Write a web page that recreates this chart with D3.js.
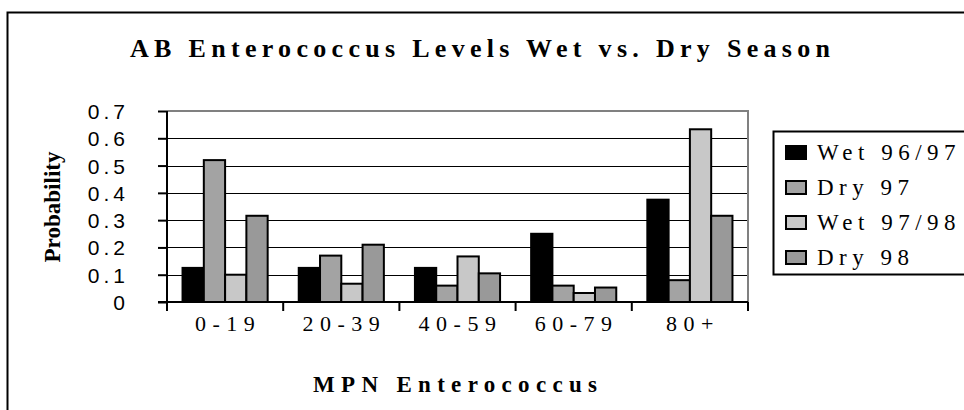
<!DOCTYPE html>
<html>
<head>
<meta charset="utf-8">
<script src="https://cdn.jsdelivr.net/npm/d3@7"></script>
<style>
  html, body { margin: 0; padding: 0; background: #fff; }
  svg { display: block; }
</style>
</head>
<body>
<svg id="chart" width="964" height="410"></svg>
<script>
// Enterococcus MPN bins and probability per season
const categories = ["0-19", "20-39", "40-59", "60-79", "80+"];
const seriesNames = ["Wet 96/97", "Dry 97", "Wet 97/98", "Dry 98"];
const wet9697 = [0.125, 0.125, 0.125, 0.25, 0.375];
const dry97 = [0.52, 0.17, 0.06, 0.06, 0.08];
const wet9798 = [0.1, 0.067, 0.167, 0.033, 0.633];
const dry98 = [0.316, 0.21, 0.105, 0.053, 0.316];
const yTicks = [0, 0.1, 0.2, 0.3, 0.4, 0.5, 0.6, 0.7];
const seriesValues = [wet9697, dry97, wet9798, dry98];
const colors = ["#000000", "#a3a3a3", "#c8c8c8", "#999999"];

const serif = "'Liberation Serif', 'Times New Roman', serif";
const sans = "'Liberation Sans', Arial, sans-serif";

const svg = d3.select("#chart");

// outer chart frame
svg.append("rect")
  .attr("x", 7.5).attr("y", 12.5)
  .attr("width", 1000).attr("height", 500)
  .attr("fill", "none").attr("stroke", "#000").attr("stroke-width", 2);

const plot = { left: 167, right: 748, top: 111, bottom: 302 };

const x0 = d3.scaleBand().domain(categories).range([plot.left, plot.right]).padding(0);
const x1 = d3.scaleBand().domain(seriesNames).range([0, x0.bandwidth()]).paddingInner(0).paddingOuter(0.73);
const y = d3.scaleLinear().domain([0, 0.7]).range([plot.bottom, plot.top]);

// gridlines
svg.append("g").selectAll("line")
  .data(yTicks.filter(t => t > 0 && t < 0.7))
  .join("line")
  .attr("x1", plot.left).attr("x2", plot.right)
  .attr("y1", d => Math.round(y(d)) + 0.5).attr("y2", d => Math.round(y(d)) + 0.5)
  .attr("stroke", "#000").attr("stroke-width", 1);

// top and right plot border (grey)
svg.append("path")
  .attr("d", `M${plot.left},${y(0.7)}H${plot.right}V${plot.bottom}`)
  .attr("fill", "none").attr("stroke", "#808080").attr("stroke-width", 2);

// bars
const rows = categories.map((c, i) => ({ cat: c, vals: seriesNames.map((s, j) => ({ s, j, v: seriesValues[j][i] })) }));
svg.append("g").selectAll("g")
  .data(rows)
  .join("g")
  .attr("transform", d => `translate(${x0(d.cat)},0)`)
  .selectAll("rect")
  .data(d => d.vals)
  .join("rect")
  .attr("x", d => x1(d.s))
  .attr("y", d => y(d.v))
  .attr("width", x1.bandwidth())
  .attr("height", d => y(0) - y(d.v))
  .attr("fill", d => colors[d.j])
  .attr("stroke", "#000").attr("stroke-width", 2);

// y axis
const yAxis = svg.append("g")
  .attr("transform", `translate(${plot.left},0)`)
  .call(d3.axisLeft(y).tickValues(yTicks).tickSize(9).tickPadding(29).tickFormat(d => d === 0 ? "0" : d3.format(".1f")(d)));
yAxis.attr("font-family", null).attr("font-size", null);
yAxis.select(".domain").attr("stroke", "#000").attr("stroke-width", 2).attr("d", `M0,${y(0.7)}V${plot.bottom}`);
yAxis.selectAll(".tick line").attr("stroke", "#000").attr("stroke-width", 2);
yAxis.selectAll(".tick text")
  .style("font-family", sans).style("font-size", "21px").attr("fill", "#000")
  .attr("letter-spacing", 4).attr("dy", "0.36em");

// x axis
const xAxis = svg.append("g")
  .attr("transform", `translate(0,${plot.bottom})`)
  .call(d3.axisBottom(x0).tickSize(0).tickPadding(13));
xAxis.attr("font-family", null).attr("font-size", null);
xAxis.select(".domain").attr("stroke", "#000").attr("stroke-width", 2).attr("d", `M${plot.left - 9},0H${plot.right}`);
xAxis.selectAll(".tick text")
  .style("font-family", serif).style("font-size", "22px").attr("fill", "#000")
  .attr("letter-spacing", 6.5).attr("dx", 3);
// category boundary ticks
xAxis.append("g").selectAll("line")
  .data(d3.range(categories.length + 1))
  .join("line")
  .attr("x1", i => plot.left + i * x0.step()).attr("x2", i => plot.left + i * x0.step())
  .attr("y1", 0).attr("y2", 9)
  .attr("stroke", "#000").attr("stroke-width", 2);

// title
svg.append("text")
  .attr("x", 130).attr("y", 57)
  .style("font-family", serif).style("font-weight", "bold").style("font-size", "26px")
  .attr("textLength", 700).attr("lengthAdjust", "spacing")
  .text("AB Enterococcus Levels Wet vs. Dry Season");

// axis titles
svg.append("text")
  .attr("x", 313).attr("y", 392)
  .style("font-family", serif).style("font-weight", "bold").style("font-size", "23px")
  .attr("textLength", 284).attr("lengthAdjust", "spacing")
  .text("MPN Enterococcus");

svg.append("text")
  .attr("transform", "translate(60,207) rotate(-90)")
  .attr("text-anchor", "middle")
  .style("font-family", serif).style("font-weight", "bold").style("font-size", "23px")
  .attr("textLength", 111).attr("lengthAdjust", "spacingAndGlyphs")
  .text("Probability");

// legend
const legend = svg.append("g");
legend.append("rect")
  .attr("x", 773.5).attr("y", 131.5).attr("width", 300).attr("height", 143)
  .attr("fill", "#fff").attr("stroke", "#000").attr("stroke-width", 2);
const item = legend.selectAll("g.item")
  .data(seriesNames)
  .join("g").attr("class", "item")
  .attr("transform", (d, i) => `translate(0,${152 + i * 35})`);
item.append("rect")
  .attr("x", 786).attr("y", -6).attr("width", 20).attr("height", 13)
  .attr("fill", (d, i) => colors[i]).attr("stroke", "#000").attr("stroke-width", 2);
item.append("text")
  .attr("x", 817).attr("y", 8)
  .style("font-family", serif).style("font-size", "23px").attr("letter-spacing", 5.5)
  .text(d => d);
</script>
</body>
</html>
